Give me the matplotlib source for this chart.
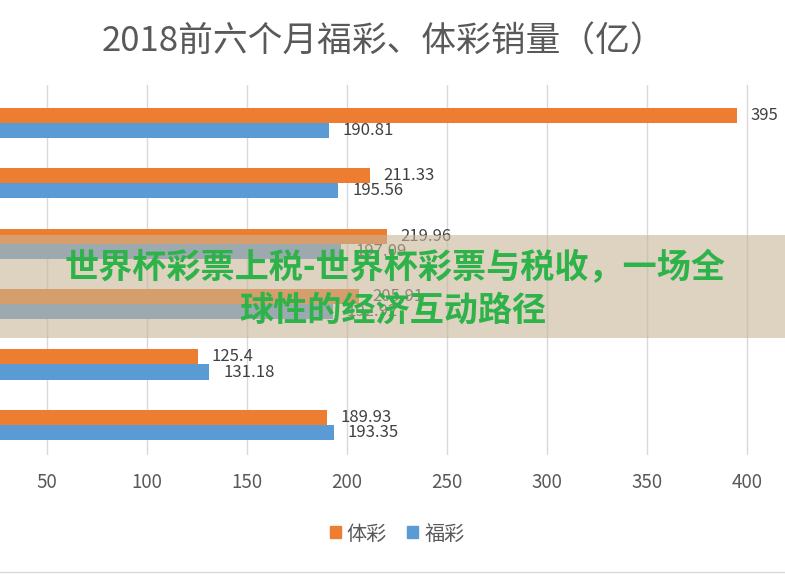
import matplotlib
matplotlib.use("Agg")
import matplotlib.pyplot as plt
import numpy as np
from matplotlib.patches import Rectangle
from matplotlib.lines import Line2D

plt.rcParams['font.family'] = ['Noto Sans CJK SC', 'DejaVu Sans']

title = "2018前六个月福彩、体彩销量（亿）"
series_names = ["体彩", "福彩"]
ticai = [395, 211.33, 219.96, 205.91, 125.4, 189.93]
ticai_labels = ["395", "211.33", "219.96", "205.91", "125.4", "189.93"]
fucai = [190.81, 195.56, 197.09, 192.92, 131.18, 193.35]
fucai_labels = ["190.81", "195.56", "197.09", "192.92", "131.18", "193.35"]
xticks = [50, 100, 150, 200, 250, 300, 350, 400]
overlay_line1 = "世界杯彩票上税-世界杯彩票与税收，一场全"
overlay_line2 = "球性的经济互动路径"

orange = "#ED7D31"
blue = "#5B9BD5"

fig = plt.figure(figsize=(7.85, 5.74), dpi=100)
W, H = 785, 574
ax = fig.add_axes([0, 1 - 455 / H, 775 / W, (455 - 85) / H])

n = len(ticai)
pos = np.arange(n)
bh = 0.25
ax.barh(pos - bh / 2, ticai, height=bh, color=orange, zorder=2, label=series_names[0])
ax.barh(pos + bh / 2, fucai, height=bh, color=blue, zorder=2, label=series_names[1])

for i in range(n):
    ax.annotate(ticai_labels[i], (ticai[i], pos[i] - bh / 2), xytext=(10, 0),
                textcoords="offset points", va="center", ha="left",
                fontsize=12, color="#404040", family=['Noto Sans CJK SC'])
    ax.annotate(fucai_labels[i], (fucai[i], pos[i] + bh / 2), xytext=(10, 0),
                textcoords="offset points", va="center", ha="left",
                fontsize=12, color="#404040", family=['Noto Sans CJK SC'])

ax.set_xlim(26.5, 414)
ax.set_ylim(5.5, -0.63)
ax.set_xticks(xticks)
ax.set_xticklabels([str(t) for t in xticks], fontsize=13.5, color="#595959",
                   family=['Noto Sans CJK SC'])
ax.tick_params(axis='x', length=0, pad=12)
ax.set_yticks([])
ax.grid(axis='x', color="#d9d9d9", linewidth=1, zorder=0)
for s in ax.spines.values():
    s.set_visible(False)

fig.text(383 / W, 1 - 42 / H, title, ha="center", va="center", fontsize=25,
         color="#595959")

handles = [Rectangle((0, 0), 1, 1, color=orange), Rectangle((0, 0), 1, 1, color=blue)]
fig.legend(handles, series_names, loc="center", bbox_to_anchor=(397 / W, 1 - 534 / H),
           ncol=2, frameon=False, fontsize=14.5, handlelength=0.55, handleheight=0.55,
           handletextpad=0.3, columnspacing=1.0, labelcolor="#595959")

# bottom border line
fig.add_artist(Line2D([0, 1], [1 - 572 / H, 1 - 572 / H], color="#d9d9d9", linewidth=1,
                      transform=fig.transFigure))

# overlay banner
fig.add_artist(Rectangle((0, 1 - 338 / H), 1, (338 - 235) / H, transform=fig.transFigure,
                         facecolor=(200 / 255, 180 / 255, 150 / 255), alpha=0.6,
                         edgecolor="none", zorder=5))
fig.text(395 / W, 1 - 268 / H, overlay_line1, ha="center", va="center", fontsize=24.6,
         fontweight="black", color="#2DB34A", zorder=6)
fig.text(393 / W, 1 - 310 / H, overlay_line2, ha="center", va="center", fontsize=24.6,
         fontweight="black", color="#2DB34A", zorder=6)

fig.savefig("out.png", dpi=100)
